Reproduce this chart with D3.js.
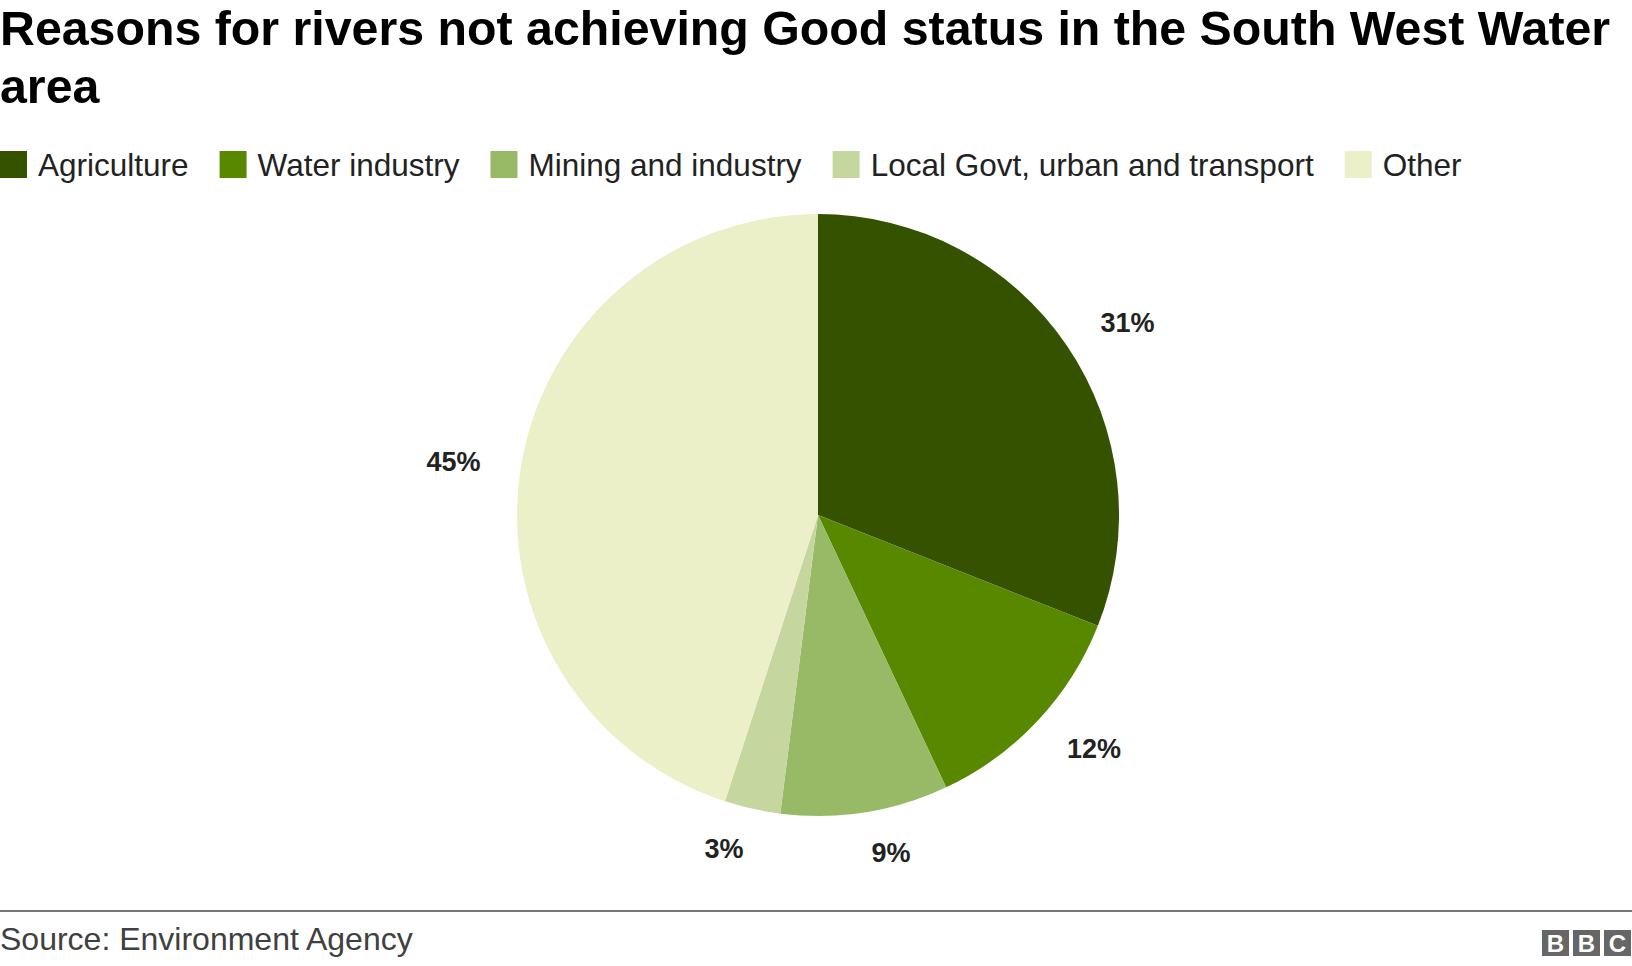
<!DOCTYPE html>
<html><head><meta charset="utf-8">
<script src="https://cdn.jsdelivr.net/npm/d3@7"></script>
<style>body{margin:0;background:#fff}text{font-family:"Liberation Sans",Arial,sans-serif}</style>
</head><body>
<svg id="chart" width="1632" height="966"></svg>
<script>
/* chart data */
const categories = ["Agriculture", "Water industry", "Mining and industry", "Local Govt, urban and transport", "Other"];
const values = [31, 12, 9, 3, 45];
const colours = ["#345200", "#588700", "#98ba66", "#c5d79f", "#ebf0c8"];

const svg = d3.select("#chart");

/* title */
svg.append("text").attr("x", 0).attr("y", 45).attr("font-size", 48.3).attr("font-weight", "bold")
  .text("Reasons for rivers not achieving Good status in the South West Water");
svg.append("text").attr("x", 0).attr("y", 103).attr("font-size", 48.3).attr("font-weight", "bold")
  .text("area");

/* legend */
let lx = 0;
categories.forEach((c, i) => {
  const g = svg.append("g").attr("transform", `translate(${lx},151)`);
  g.append("rect").attr("width", 27).attr("height", 27).attr("fill", colours[i]);
  const t = g.append("text").attr("x", 38).attr("y", 25).attr("font-size", 31.5).attr("fill", "#222").text(c);
  lx += 38 + t.node().getComputedTextLength() + 31;
});

/* pie */
const cx = 818, cy = 515, r = 301;
const pie = d3.pie().sort(null).value(d => d)(values);
const arc = d3.arc().innerRadius(0).outerRadius(r);
const labelArc = d3.arc().innerRadius(r * 1.135).outerRadius(r * 1.135);
const pg = svg.append("g").attr("transform", `translate(${cx},${cy})`);
pg.selectAll("path").data(pie).enter().append("path")
  .attr("d", arc).attr("fill", (d, i) => colours[i]);
pg.selectAll(".lbl").data(pie).enter().append("text")
  .attr("class", "lbl")
  .attr("transform", d => `translate(${labelArc.centroid(d)})`)
  .attr("text-anchor", d => labelArc.centroid(d)[0] > 0 ? "start" : "end").attr("dy", "0.35em")
  .attr("font-size", 27).attr("font-weight", "bold").attr("fill", "#222")
  .text(d => d.data + "%");

/* footer */
svg.append("line").attr("x1", 0).attr("x2", 1632).attr("y1", 911).attr("y2", 911)
  .attr("stroke", "#777").attr("stroke-width", 2);
svg.append("text").attr("x", 0).attr("y", 950).attr("font-size", 32).attr("fill", "#404040")
  .text("Source: Environment Agency");
["B", "B", "C"].forEach((l, i) => {
  const x = 1542 + i * 31;
  svg.append("rect").attr("x", x).attr("y", 930).attr("width", 27).attr("height", 26).attr("fill", "#666");
  svg.append("text").attr("x", x + 13.5).attr("y", 952).attr("text-anchor", "middle")
    .attr("font-size", 24).attr("font-weight", "bold").attr("fill", "#fff").text(l);
});
</script>
</body></html>
